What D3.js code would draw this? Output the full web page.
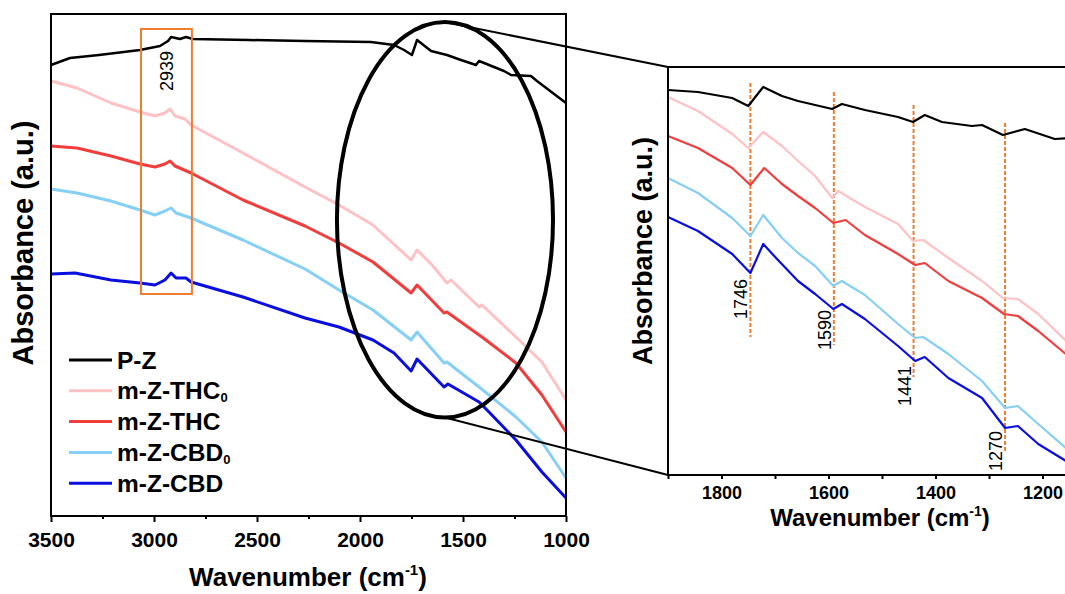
<!DOCTYPE html>
<html>
<head>
<meta charset="utf-8">
<script src="https://cdn.jsdelivr.net/npm/d3@7"></script>
<style>
  body { margin: 0; background: #fff; }
  text { font-family: Arial, "Liberation Sans", sans-serif; }
</style>
</head>
<body>
<svg id="main" width="1065" height="594"></svg>
<script>
// series names + colours
const seriesNames = ['P-Z', 'm-Z-THC0', 'm-Z-THC', 'm-Z-CBD0', 'm-Z-CBD'];
const seriesColors = ['#000000', '#ffc2c4', '#f23d3d', '#86cff7', '#0a0fe0'];

// full spectra [wavenumber, absorbance a.u.]
const pz = [[3500,0.904],[3408,0.918],[3267,0.924],[3068,0.934],[2971,0.942],[2932,0.952],[2917,0.960],[2874,0.956],[2845,0.960],[2811,0.956],[2539,0.954],[2267,0.952],[1947,0.950],[1835,0.944],[1786,0.934],[1748,0.924],[1723,0.954],[1655,0.932],[1578,0.924],[1510,0.914],[1437,0.904],[1422,0.912],[1301,0.892],[1267,0.884],[1170,0.882],[1141,0.872],[1000,0.828]];
const thc0 = [[3500,0.872],[3374,0.858],[3209,0.828],[3068,0.810],[2995,0.802],[2947,0.808],[2922,0.816],[2898,0.802],[2850,0.796],[2820,0.784],[2568,0.728],[2267,0.660],[2102,0.624],[1937,0.584],[1752,0.514],[1723,0.534],[1650,0.504],[1578,0.468],[1558,0.474],[1422,0.420],[1408,0.424],[1243,0.360],[1117,0.310],[1000,0.234]];
const thc = [[3500,0.742],[3374,0.738],[3209,0.722],[3068,0.706],[2995,0.700],[2947,0.706],[2922,0.712],[2898,0.702],[2820,0.688],[2568,0.634],[2267,0.582],[2102,0.548],[1937,0.510],[1752,0.448],[1723,0.464],[1592,0.408],[1578,0.410],[1422,0.364],[1408,0.360],[1243,0.308],[1117,0.244],[1000,0.170]];
const cbd0 = [[3500,0.656],[3374,0.648],[3209,0.632],[3068,0.614],[2995,0.604],[2947,0.612],[2917,0.618],[2893,0.608],[2820,0.598],[2568,0.554],[2267,0.496],[2102,0.454],[1937,0.414],[1752,0.354],[1723,0.370],[1592,0.308],[1578,0.310],[1422,0.260],[1243,0.200],[1117,0.150],[1000,0.078]];
const cbd = [[3500,0.486],[3383,0.488],[3209,0.474],[3068,0.468],[2995,0.464],[2947,0.474],[2917,0.488],[2893,0.478],[2845,0.478],[2820,0.470],[2568,0.440],[2267,0.398],[2102,0.380],[1937,0.354],[1835,0.328],[1752,0.292],[1723,0.316],[1592,0.260],[1573,0.266],[1422,0.230],[1374,0.210],[1243,0.154],[1117,0.090],[1000,0.038]];

// zoomed region 1900-1150 (offset differently)
const pzZoom = [[1900,0.770],[1844,0.766],[1780,0.754],[1750,0.738],[1722,0.776],[1687,0.758],[1657,0.748],[1593,0.732],[1575,0.742],[1532,0.730],[1470,0.716],[1442,0.706],[1420,0.720],[1388,0.706],[1332,0.698],[1313,0.700],[1274,0.680],[1233,0.692],[1177,0.672],[1150,0.674]];
const thc0Zoom = [[1900,0.756],[1844,0.728],[1780,0.682],[1750,0.654],[1722,0.686],[1687,0.658],[1657,0.628],[1625,0.598],[1593,0.554],[1582,0.568],[1532,0.536],[1470,0.502],[1442,0.468],[1423,0.470],[1376,0.434],[1313,0.388],[1274,0.354],[1246,0.352],[1208,0.322],[1150,0.262]];
const thcZoom = [[1900,0.678],[1844,0.654],[1780,0.614],[1746,0.580],[1720,0.614],[1687,0.582],[1657,0.558],[1625,0.534],[1591,0.504],[1568,0.510],[1532,0.480],[1470,0.442],[1438,0.420],[1420,0.424],[1376,0.388],[1313,0.354],[1272,0.322],[1246,0.318],[1208,0.288],[1150,0.236]];
const cbd0Zoom = [[1900,0.594],[1844,0.564],[1780,0.514],[1746,0.478],[1722,0.520],[1687,0.474],[1657,0.444],[1625,0.418],[1591,0.378],[1575,0.388],[1532,0.360],[1470,0.302],[1438,0.274],[1423,0.276],[1376,0.242],[1313,0.188],[1270,0.134],[1246,0.138],[1208,0.102],[1150,0.048]];
const cbdZoom = [[1900,0.516],[1844,0.488],[1780,0.442],[1746,0.404],[1722,0.462],[1698,0.434],[1657,0.388],[1625,0.362],[1591,0.332],[1575,0.342],[1532,0.312],[1470,0.258],[1438,0.228],[1420,0.236],[1376,0.194],[1313,0.154],[1270,0.094],[1246,0.098],[1208,0.062],[1150,0.024]];

const xTicks = [3500, 3000, 2500, 2000, 1500, 1000];
const xMinor = [3250, 2750, 2250, 1750, 1250];
const zTicks = [1800, 1600, 1400, 1200];
const zMinor = [1900, 1700, 1500, 1300];

// peak marks in the zoom: wavenumber, dashed top/bottom, label centre
const peaks = [1746, 1590, 1441, 1270];
const peakTop = [0.784, 0.766, 0.740, 0.704];
const peakBottom = [0.276, 0.260, 0.196, 0.044];
const peakLabelY = [0.352, 0.290, 0.178, 0.048];

// 2939 box and the ellipse (data coords of left panel)
const boxWn = [3063, 2816], boxAbs = [0.976, 0.446];
const ellWn = [2112, 1063], ellAbs = [0.990, 0.199];

main();

function main() {
	const svg = d3.select('#main');
	const full = [pz, thc0, thc, cbd0, cbd];
	const zoom = [pzZoom, thc0Zoom, thcZoom, cbd0Zoom, cbdZoom];
	const fmt = d3.format('d');

	// ---------- left panel
	const x = d3.scaleLinear().domain([3500, 1000]).range([51, 566]);
	const y = d3.scaleLinear().domain([0, 1.008]).range([517, 13]);
	const left = svg.append('g');

	const line = d3.line().x(d => x(d[0])).y(d => y(d[1]));
	left.append('g').selectAll('path')
		.data(full)
		.enter().append('path')
		.attr('d', line)
		.attr('fill', 'none')
		.attr('stroke', (d, i) => seriesColors[i])
		.attr('stroke-width', (d, i) => i == 0 ? 2.5 : 3)
		.attr('stroke-linejoin', 'round');

	left.append('rect')
		.attr('x', 51).attr('y', 14).attr('width', 515).attr('height', 502)
		.attr('fill', 'none').attr('stroke', '#000').attr('stroke-width', 2);

	let ax = left.append('g').attr('transform', 'translate(0,516)')
		.call(d3.axisBottom(x).tickValues(xTicks).tickFormat(fmt).tickSize(6).tickPadding(10).tickSizeOuter(0));
	ax.select('.domain').remove();
	ax.selectAll('line').attr('stroke-width', 2);
	ax.selectAll('text').attr('font-size', 21).attr('font-weight', 'bold').attr('fill', '#000')
		.attr('font-family', 'Arial, "Liberation Sans", sans-serif');
	let axm = left.append('g').attr('transform', 'translate(0,516)')
		.call(d3.axisBottom(x).tickValues(xMinor).tickSize(3).tickFormat(''));
	axm.select('.domain').remove();
	axm.selectAll('line').attr('stroke-width', 2);

	let xt = left.append('text').attr('x', 308).attr('y', 586)
		.attr('text-anchor', 'middle').attr('font-size', 26).attr('font-weight', 'bold');
	xt.append('tspan').text('Wavenumber (cm');
	xt.append('tspan').text('-1').attr('font-size', 15).attr('dy', -11);
	xt.append('tspan').text(')').attr('dy', 11);

	left.append('text')
		.attr('transform', 'translate(33,243) rotate(-90)')
		.attr('text-anchor', 'middle').attr('font-size', 29).attr('font-weight', 'bold')
		.text('Absorbance (a.u.)');

	// orange box at 2939
	left.append('rect')
		.attr('x', x(boxWn[0])).attr('y', y(boxAbs[0]))
		.attr('width', x(boxWn[1]) - x(boxWn[0])).attr('height', y(boxAbs[1]) - y(boxAbs[0]))
		.attr('fill', 'none').attr('stroke', '#ef7d2e').attr('stroke-width', 2);
	left.append('text')
		.attr('transform', `translate(${x(2939) + 6},${y(0.892)}) rotate(-90)`)
		.attr('text-anchor', 'middle').attr('font-size', 18).text('2939');

	// legend
	const lg = left.append('g');
	seriesNames.forEach((n, i) => {
		const yy = 360 + i * 30.8;
		lg.append('line').attr('x1', 69).attr('x2', 112).attr('y1', yy).attr('y2', yy)
			.attr('stroke', seriesColors[i]).attr('stroke-width', 3);
		const t = lg.append('text').attr('x', 117).attr('y', yy + 8.5)
			.attr('font-size', 24.5).attr('font-weight', 'bold');
		if (n.endsWith('0')) {
			t.append('tspan').text(n.slice(0, -1));
			t.append('tspan').text('0').attr('font-size', 13).attr('dy', 3);
		} else {
			t.text(n);
		}
	});

	// ---------- zoom panel
	const zx = d3.scaleLinear().domain([1900, 1100]).range([668, 1096]);
	const zy = d3.scaleLinear().domain([0, 0.816]).range([475, 67]);
	const right = svg.append('g');

	// ellipse + connector lines
	const ecx = (x(ellWn[0]) + x(ellWn[1])) / 2, ecy = (y(ellAbs[0]) + y(ellAbs[1])) / 2;
	left.append('ellipse')
		.attr('cx', ecx).attr('cy', ecy)
		.attr('rx', (x(ellWn[1]) - x(ellWn[0])) / 2).attr('ry', (y(ellAbs[1]) - y(ellAbs[0])) / 2)
		.attr('fill', 'none').attr('stroke', '#000').attr('stroke-width', 4);
	left.append('line').attr('x1', ecx + 4).attr('y1', y(ellAbs[0]) + 1)
		.attr('x2', zx(1900)).attr('y2', zy(0.816)).attr('stroke', '#000').attr('stroke-width', 2);
	left.append('line').attr('x1', ecx).attr('y1', y(ellAbs[1]))
		.attr('x2', zx(1900)).attr('y2', zy(0)).attr('stroke', '#000').attr('stroke-width', 2);

	// dashed peak marks
	peaks.forEach((p, i) => {
		right.append('line')
			.attr('x1', zx(p)).attr('x2', zx(p))
			.attr('y1', zy(peakTop[i])).attr('y2', zy(peakBottom[i]))
			.attr('stroke', '#ef7d2e').attr('stroke-width', 2).attr('stroke-dasharray', '4,2');
	});

	const zline = d3.line().x(d => zx(d[0])).y(d => zy(d[1]));
	right.append('g').selectAll('path')
		.data(zoom)
		.enter().append('path')
		.attr('d', zline)
		.attr('fill', 'none')
		.attr('stroke', (d, i) => seriesColors[i])
		.attr('stroke-width', 2.2)
		.attr('stroke-linejoin', 'round');

	peaks.forEach((p, i) => {
		right.append('text')
			.attr('transform', `translate(${zx(p) - 3},${zy(peakLabelY[i])}) rotate(-90)`)
			.attr('text-anchor', 'middle').attr('font-size', 18).text(p);
	});

	right.append('path')
		.attr('d', `M1065,67H668V475H1065`)
		.attr('fill', 'none').attr('stroke', '#000').attr('stroke-width', 2);

	let zax = right.append('g').attr('transform', 'translate(0,475)')
		.call(d3.axisBottom(zx).tickValues(zTicks).tickFormat(fmt).tickSize(4).tickPadding(7).tickSizeOuter(0));
	zax.select('.domain').remove();
	zax.selectAll('line').attr('stroke-width', 2);
	zax.selectAll('text').attr('font-size', 18).attr('font-weight', 'bold').attr('fill', '#000')
		.attr('font-family', 'Arial, "Liberation Sans", sans-serif');
	let zaxm = right.append('g').attr('transform', 'translate(0,475)')
		.call(d3.axisBottom(zx).tickValues(zMinor).tickSize(4).tickFormat(''));
	zaxm.select('.domain').remove();
	zaxm.selectAll('line').attr('stroke-width', 2);

	let zt = right.append('text').attr('x', 880).attr('y', 526)
		.attr('text-anchor', 'middle').attr('font-size', 24).attr('font-weight', 'bold');
	zt.append('tspan').text('Wavenumber (cm');
	zt.append('tspan').text('-1').attr('font-size', 14).attr('dy', -10);
	zt.append('tspan').text(')').attr('dy', 10);

	right.append('text')
		.attr('transform', 'translate(652,251) rotate(-90)')
		.attr('text-anchor', 'middle').attr('font-size', 27).attr('font-weight', 'bold')
		.text('Absorbance (a.u.)');
}
</script>
</body>
</html>
